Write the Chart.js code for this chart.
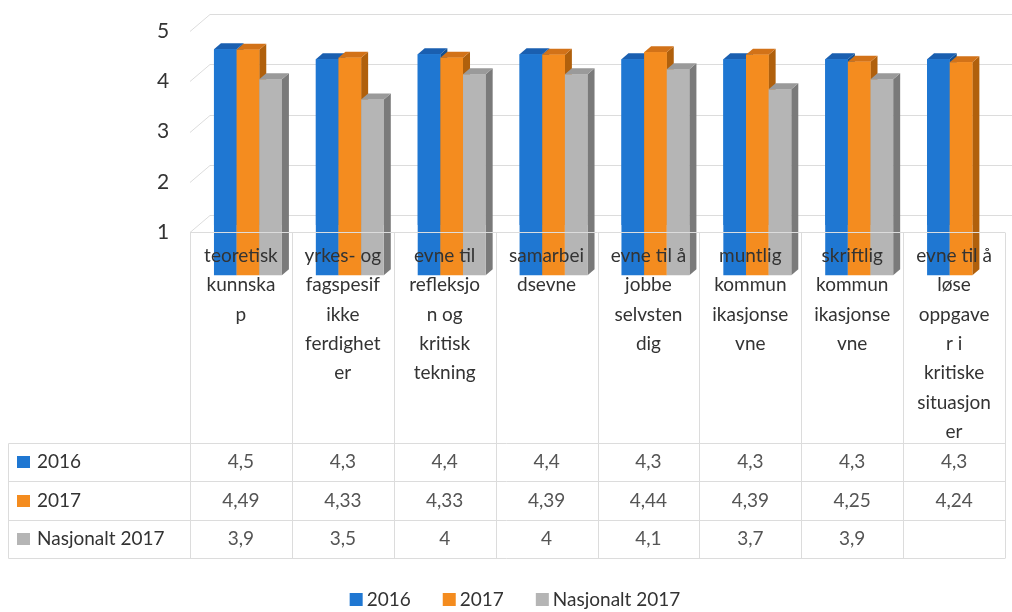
<!DOCTYPE html>
<html><head><meta charset="utf-8">
<script src="https://cdn.jsdelivr.net/npm/chart.js@4"></script>
<style>html,body{margin:0;padding:0;background:#fff}#wrap{width:1012px;height:612px}</style>
</head><body><div id="wrap"><canvas id="c" width="1012" height="612"></canvas></div>
<script>
const categories = [
  ["teoretisk","kunnska","p"],
  ["yrkes- og","fagspesif","ikke","ferdighet","er"],
  ["evne til","refleksjo","n og","kritisk","tekning"],
  ["samarbei","dsevne"],
  ["evne til å","jobbe","selvsten","dig"],
  ["muntlig","kommun","ikasjonse","vne"],
  ["skriftlig","kommun","ikasjonse","vne"],
  ["evne til å","løse","oppgave","r i","kritiske","situasjon","er"]
];
const seriesNames = ["2016","2017","Nasjonalt 2017"];
const values2016 = [4.5,4.3,4.4,4.4,4.3,4.3,4.3,4.3];
const values2017 = [4.49,4.33,4.33,4.39,4.44,4.39,4.25,4.24];
const valuesNasjonalt = [3.9,3.5,4,4,4.1,3.7,3.9,null];
const yTicks = [1,2,3,4,5];

const FONT = 'Lato, "Open Sans", sans-serif';
const FS = 19;
const frontCol = ['#1f77d2','#f48c1f','#b5b5b5'];
const topCol = ['#1a5fb0','#d27218','#9a9a9a'];
const sideCol = ['#15508f','#b0600c','#7a7a7a'];
const gridCol = '#dcdcdc';
const DX = 7, DY = -6;           // bar depth
const WX = 20, WY = -17;         // wall depth
const FRONT_OFF = 7;             // front plane vs bar plane

const threeD = {
  id: 'threeD',
  beforeDatasetsDraw(chart) {
    const {ctx, scales:{x, y}} = chart;
    const left = x.left - FRONT_OFF;
    ctx.save();
    ctx.strokeStyle = gridCol; ctx.lineWidth = 1;
    yTicks.forEach(v => {
      const yf = Math.round(y.getPixelForValue(v) + FRONT_OFF) + 0.5;
      ctx.beginPath();
      ctx.moveTo(left, yf);
      ctx.lineTo(left + WX, yf + WY);
      ctx.lineTo(chart.width, yf + WY);
      ctx.stroke();
    });
    ctx.restore();
  },
  afterDatasetsDraw(chart) {
    const {ctx} = chart;
    const n = chart.data.labels.length;
    ctx.save();
    for (let i = 0; i < n; i++) {
      chart.data.datasets.forEach((ds, d) => {
        const meta = chart.getDatasetMeta(d);
        const el = meta.data[i];
        if (!el || ds.data[i] == null) return;
        const x0 = el.x - el.width/2, x1 = el.x + el.width/2;
        const yt = el.y, yb = el.base;
        ctx.fillStyle = sideCol[d];
        ctx.beginPath();
        ctx.moveTo(x1, yt); ctx.lineTo(x1+DX, yt+DY); ctx.lineTo(x1+DX, yb+DY); ctx.lineTo(x1, yb);
        ctx.closePath(); ctx.fill();
        ctx.fillStyle = topCol[d];
        ctx.beginPath();
        ctx.moveTo(x0, yt); ctx.lineTo(x0+DX, yt+DY); ctx.lineTo(x1+DX, yt+DY); ctx.lineTo(x1, yt);
        ctx.closePath(); ctx.fill();
        ctx.fillStyle = frontCol[d];
        ctx.fillRect(x0, yt, x1-x0, yb-yt);
      });
    }
    ctx.restore();
  },
  afterDraw(chart) {
    const {ctx, scales:{x, y}} = chart;
    const left = x.left - FRONT_OFF;
    const n = chart.data.labels.length;
    const w = (x.right - x.left) / n;
    const top = Math.round(y.getPixelForValue(1) + FRONT_OFF) + 0.5;
    const rowLines = [443.5, 481.5, 520.5, 558.5];
    const rowCenters = [462, 501, 539];
    const tableLeft = 8.5;
    ctx.save();
    ctx.strokeStyle = gridCol; ctx.lineWidth = 1;
    for (let i = 0; i <= n; i++) {
      const xx = Math.round(left + i*w) + 0.5;
      ctx.beginPath(); ctx.moveTo(xx, top); ctx.lineTo(xx, rowLines[3]); ctx.stroke();
    }
    ctx.beginPath(); ctx.moveTo(tableLeft, rowLines[0]); ctx.lineTo(tableLeft, rowLines[3]); ctx.stroke();
    ctx.beginPath(); ctx.moveTo(left, top); ctx.lineTo(left + n*w, top); ctx.stroke();
    rowLines.forEach(ry => {
      ctx.beginPath(); ctx.moveTo(tableLeft, ry); ctx.lineTo(left + n*w, ry); ctx.stroke();
    });
    ctx.font = FS + 'px ' + FONT;
    ctx.textAlign = 'center'; ctx.textBaseline = 'middle';
    ctx.fillStyle = '#333333';
    categories.forEach((lines, i) => {
      const cx = left + (i + 0.5) * w;
      lines.forEach((t, k) => ctx.fillText(t, cx, 256 + k*29.3));
    });
    const series = chart.data.datasets.map(ds => ds.data);
    ctx.fillStyle = '#555555';
    series.forEach((vals, r) => {
      vals.forEach((v, i) => {
        if (v == null) return;
        const cx = left + (i + 0.5) * w;
        ctx.fillText(String(v).replace('.', ','), cx, rowCenters[r]);
      });
    });
    ctx.textAlign = 'left';
    chart.data.datasets.forEach((ds, r) => {
      ctx.fillStyle = frontCol[r];
      ctx.fillRect(17, rowCenters[r]-6, 13, 12);
      ctx.fillStyle = '#333333';
      ctx.fillText(ds.label, 37, rowCenters[r]);
    });
    const items = chart.data.datasets.map((ds, r) => ({label: ds.label, color: frontCol[r], w: ctx.measureText(ds.label).width}));
    const gap = 32, box = 13, bg = 4;
    const total = items.reduce((s, it) => s + box + bg + it.w, 0) + gap*(items.length-1);
    let lx = 515 - total/2;
    const ly = 600;
    items.forEach(it => {
      ctx.fillStyle = it.color;
      ctx.fillRect(lx, ly-7, box, box);
      ctx.fillStyle = '#333333';
      ctx.fillText(it.label, lx + box + bg, ly);
      lx += box + bg + it.w + gap;
    });
    ctx.restore();
  }
};

new Chart(document.getElementById('c'), {
  type: 'bar',
  data: {
    labels: categories.map(c => c.join('')),
    datasets: [
      {label: seriesNames[0], data: values2016, backgroundColor: frontCol[0]},
      {label: seriesNames[1], data: values2017, backgroundColor: frontCol[1]},
      {label: seriesNames[2], data: valuesNasjonalt, backgroundColor: frontCol[2]}
    ]
  },
  options: {
    responsive: false,
    animation: false,
    categoryPercentage: 0.667,
    barPercentage: 1,
    layout: {padding: {top: 24, left: 157, right: 0, bottom: 0}},
    plugins: {legend: {display: false}, tooltip: {enabled: false}},
    scales: {
      x: {
        grid: {display: false}, border: {display: false},
        ticks: {display: false},
        afterFit(s) { s.height = 387; }
      },
      y: {
        min: 1, max: 5,
        afterBuildTicks(s) { s.ticks = yTicks.map(v => ({value: v})); },
        grid: {display: false}, border: {display: false},
        ticks: {padding: 0, crossAlign: 'far', labelOffset: 7, font: {family: FONT, size: 21}, color: '#333333'},
        afterFit(s) { s.width = 40; }
      }
    }
  },
  plugins: [threeD]
});
</script>
</body></html>
